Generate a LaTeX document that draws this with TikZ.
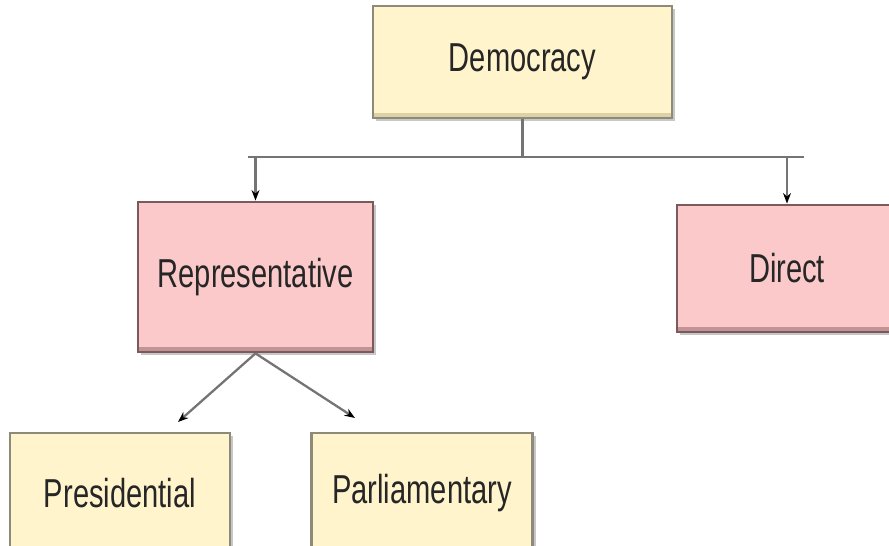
\documentclass[tikz,border=0pt]{standalone}
\usepackage{fontspec}
\setmainfont{Liberation Sans}
\usetikzlibrary{arrows.meta,shadows}
\definecolor{paleyellow}{HTML}{FFF4CC}
\definecolor{yellowband}{HTML}{DCD2A6}
\definecolor{yellowedge}{HTML}{8E8A7A}
\definecolor{palepink}{HTML}{FBC9CA}
\definecolor{pinkband}{HTML}{C29394}
\definecolor{pinkedge}{HTML}{7A5A5A}
\definecolor{wiregray}{HTML}{747474}
\newcommand{\narrow}[1]{\scalebox{0.72}[1]{#1}}
\begin{document}
\begin{tikzpicture}[line cap=butt,line join=miter,>={Stealth[length=6pt,width=4.5pt,color=black]},
    font=\fontsize{23}{28}\selectfont,
    box/.style={inner sep=0pt,line width=1.6pt,text=black!85,
        drop shadow={shadow xshift=0.06cm,shadow yshift=-0.06cm,fill=black!22,opacity=1}},
    yellowbox/.style={box,draw=yellowedge,fill=paleyellow,
        path picture={\fill[yellowband] (path picture bounding box.south west) rectangle ([yshift=0.1cm]path picture bounding box.south east);}},
    pinkbox/.style={box,draw=pinkedge,fill=palepink,
        path picture={\fill[pinkband] (path picture bounding box.south west) rectangle ([yshift=0.1cm]path picture bounding box.south east);}},
    wire/.style={draw=wiregray,line width=1.6pt}]
    \useasboundingbox (0,0) rectangle (17.78,10.9);
    \clip (0,0) rectangle (17.78,10.9);
    % boxes
    \node[yellowbox,minimum width=5.98cm,minimum height=2.24cm] (demo) at (10.45,9.66) {\narrow{Democracy}};
    \node[pinkbox,minimum width=4.7cm,minimum height=3cm] (rep) at (5.11,5.36) {\narrow{Representative}};
    \node[pinkbox,minimum width=4.4cm,minimum height=2.54cm] (direct) at (15.74,5.53) {\narrow{Direct}};
    \node[yellowbox,minimum width=4.4cm,minimum height=2.4cm] (pres) at (2.4,1.04) {\narrow{Presidential}};
    \node[yellowbox,minimum width=4.42cm,minimum height=2.4cm] (parl) at (8.44,1.04) {\narrow{Parliamentary}};
    % connectors
    \coordinate (busL) at (4.96,7.76);
    \coordinate (busR) at (16.08,7.76);
    \coordinate (presTip) at (3.56,2.46);
    \coordinate (parlTip) at (7.1,2.54);
    \draw[wire] (demo.south) -- (demo.south|-busL);
    \draw[wire] (busL) -- (busR);
    \draw[wire,->] (rep.north|-busL) -- (rep.north);
    \draw[wire,->] (direct.north|-busR) -- (direct.north);
    \draw[wire,line width=1.3pt,->] (rep.south) -- (presTip);
    \draw[wire,line width=1.3pt,->] (rep.south) -- (parlTip);
\end{tikzpicture}
\end{document}
